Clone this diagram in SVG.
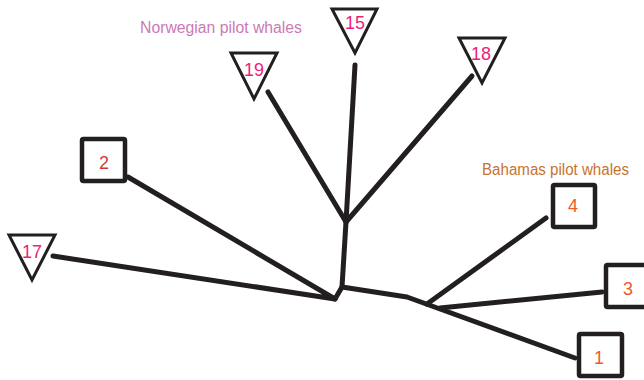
<svg xmlns="http://www.w3.org/2000/svg" width="644" height="380" viewBox="0 0 644 380">
<style>
.br{fill:none;stroke:#231f20;stroke-width:5;stroke-linecap:round;stroke-linejoin:round}
.sq{fill:#fff;stroke:#231f20;stroke-width:4.5;stroke-linejoin:round}
.tri{fill:#fff;stroke:#231f20;stroke-width:3;stroke-linejoin:miter}
.num{font-family:"Liberation Sans",Arial,sans-serif;font-size:18px;text-anchor:middle}
.pk{fill:#ec1e79}
.or{fill:#f05a28}
.rd{fill:#d33a36}
.lbl{font-family:"Liberation Sans",Arial,sans-serif;font-size:16px}
</style>
<rect width="644" height="380" fill="#fff"/>
<g id="connectors">
<path class="br" d="M128,177 L335,299 L53,256"/>
<path class="br" d="M335,299 L342,287 L346,222"/>
<path class="br" d="M268,92 L346,222 L355,65"/>
<path class="br" d="M346,222 L472,76"/>
<path class="br" d="M342,287 L407,297 L575,358"/>
<path class="br" d="M427,304 L546,218"/>
<path class="br" d="M440,308 L602,292"/>
</g>
<text class="lbl" x="140" y="33" fill="#cc79b5" textLength="162" lengthAdjust="spacingAndGlyphs">Norwegian pilot whales</text>
<text class="lbl" x="482" y="175" fill="#c8732e" textLength="147" lengthAdjust="spacingAndGlyphs">Bahamas pilot whales</text>
<g id="n2"><rect class="sq" x="82" y="139" width="43" height="42" rx="1.5"/><text class="num rd" x="104" y="169">2</text></g>
<g id="n4"><rect class="sq" x="553" y="185" width="42" height="42" rx="1.5"/><text class="num or" x="573" y="212">4</text></g>
<g id="n3"><rect class="sq" x="606" y="265" width="44" height="42" rx="1.5"/><text class="num or" x="628" y="295">3</text></g>
<g id="n1"><rect class="sq" x="579" y="334" width="43" height="42" rx="1.5"/><text class="num or" x="599" y="364">1</text></g>
<g id="n19"><polygon class="tri" points="231,53 277,53 254,99"/><text class="num pk" x="254" y="76">19</text></g>
<g id="n15"><polygon class="tri" points="332,9 377,9 355,53"/><text class="num pk" x="355" y="29">15</text></g>
<g id="n18"><polygon class="tri" points="459,38 505,38 482,83"/><text class="num pk" x="481" y="60">18</text></g>
<g id="n17"><polygon class="tri" points="9,235 55,235 32,280"/><text class="num pk" x="32" y="258">17</text></g>
</svg>
